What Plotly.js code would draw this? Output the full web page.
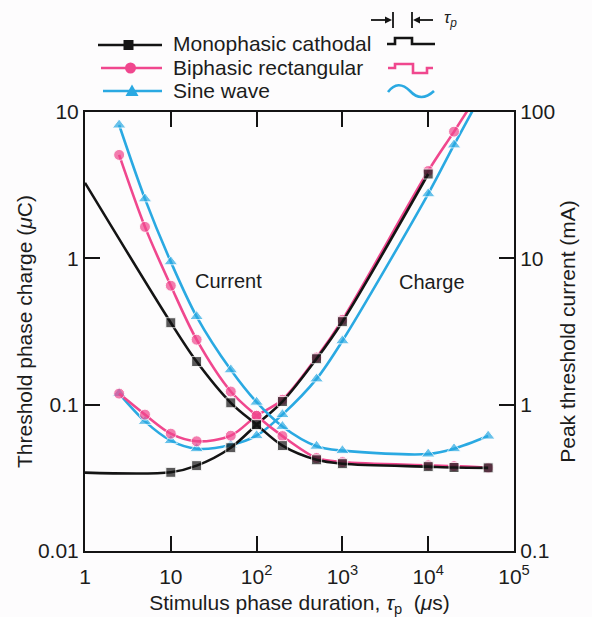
<!DOCTYPE html>
<html>
<head>
<meta charset="utf-8">
<script src="https://cdn.plot.ly/plotly-3.0.1.min.js"></script>
<style>html,body{margin:0;padding:0;background:#fdfcfd;}#chart{width:592px;height:617px;}</style>
</head>
<body>
<div id="chart"></div>
<script>
// ---- data ----
// stimulus phase duration (µs)
var monoX      = [1, 10, 20, 50, 100, 200, 500, 1000, 10000, 20000, 50000];
var monoCurrent= [32.8, 3.63, 1.97, 1.03, 0.73, 0.525, 0.42, 0.395, 0.377, 0.372, 0.37];   // mA
var monoMarkC  = [0, 1, 1, 1, 1, 1, 1, 1, 1, 1, 1];
var monoQX     = [1, 10, 20, 50, 100, 200, 500, 1000, 10000];
var monoCharge = [0.0343, 0.0345, 0.0383, 0.0508, 0.073, 0.105, 0.206, 0.369, 3.77];       // µC
var monoMarkQ  = [0, 1, 1, 1, 1, 1, 1, 1, 1];

var biX        = [2.5, 5, 10, 20, 50, 100, 200, 500, 1000, 10000, 20000, 50000];
var biCurrent  = [50.9, 16.4, 6.5, 2.78, 1.23, 0.84, 0.61, 0.432, 0.405, 0.385, 0.38, 0.37];
var biMarkC    = [1, 1, 1, 1, 1, 1, 1, 1, 1, 1, 1, 1];
var biCharge   = [0.119, 0.0855, 0.0634, 0.0562, 0.0614, 0.084, 0.108, 0.21, 0.38, 3.95, 7.34, 17];
var biMarkQ    = [1, 1, 1, 1, 1, 1, 1, 1, 1, 1, 1, 0];

var sineX      = [2.5, 5, 10, 20, 50, 100, 200, 500, 1000, 10000, 20000, 50000];
var sineCurrent= [81.5, 25.5, 9.47, 4.0, 1.73, 1.04, 0.71, 0.52, 0.485, 0.46, 0.50, 0.61];
var sineMarkC  = [1, 1, 1, 1, 1, 1, 1, 1, 1, 1, 1, 1];
var sineCharge = [0.119, 0.0769, 0.0568, 0.050, 0.053, 0.0614, 0.0855, 0.150, 0.273, 2.76, 5.96, 16];
var sineMarkQ  = [1, 1, 1, 1, 1, 1, 1, 1, 1, 1, 1, 0];

var xTickVals  = [1, 10, 100, 1000, 10000, 100000];
var xTickText  = ['1', '10', '10<sup>2</sup>', '10<sup>3</sup>', '10<sup>4</sup>', '10<sup>5</sup>'];
var yTickVals  = [0.01, 0.1, 1, 10];
var yTickText  = ['0.01', '0.1', '1', '10'];
var y2TickVals = [0.1, 1, 10, 100];
var y2TickText = ['0.1', '1', '10', '100'];
var seriesNames = ['Monophasic cathodal', 'Biphasic rectangular', 'Sine wave'];

// ---- styles ----
var BLACK = '#141414', PINK = '#f0478e', BLUE = '#2aa9e2', TXT = '#1c1c1c';
var FONT = 'Liberation Sans, Arial, Helvetica, sans-serif';

function tr(x, y, mark, color, symbol, size, axis) {
  return {
    x: x, y: y, yaxis: axis, type: 'scatter', mode: 'lines+markers',
    line: {color: color, width: 2.6, shape: 'spline', smoothing: 0.9},
    marker: {color: color, symbol: symbol, size: mark.map(function(m){return m ? size : 0;})},
    showlegend: false, hoverinfo: 'skip'
  };
}

var data = [
  tr(sineX, sineCurrent, sineMarkC, BLUE, 'triangle-up', 12, 'y2'),
  tr(sineX, sineCharge, sineMarkQ, BLUE, 'triangle-up', 12, 'y'),
  tr(biX, biCurrent, biMarkC, PINK, 'circle', 11, 'y2'),
  tr(biX, biCharge, biMarkQ, PINK, 'circle', 11, 'y'),
  tr(monoX, monoCurrent, monoMarkC, BLACK, 'square', 10, 'y2'),
  tr(monoQX, monoCharge, monoMarkQ, BLACK, 'square', 10, 'y')
];

// pixel -> paper helpers for decorations (plot area 85..514 x 112..551)
var L = 85, R = 514, T = 112, B = 551;
function px(x){ return (x - L) / (R - L); }
function py(y){ return (B - y) / (B - T); }
function path(pts){
  return pts.map(function(p){
    var s = p[0];
    for (var i = 1; i < p.length; i += 2) s += (i > 1 ? ' ' : '') + px(p[i]) + ',' + py(p[i+1]);
    return s;
  }).join(' ');
}
function lineShape(x0,y0,x1,y1,color,w){
  return {type:'line', xref:'paper', yref:'paper', x0:px(x0), y0:py(y0), x1:px(x1), y1:py(y1), line:{color:color, width:w||2.6}};
}
function pathShape(d,color,w,fill){
  return {type:'path', xref:'paper', yref:'paper', path:d, line:{color:color, width:w===undefined?2.6:w}, fillcolor: fill || 'rgba(0,0,0,0)'};
}

var shapes = [
  // legend lines
  lineShape(98, 45, 162, 45, BLACK),
  lineShape(101, 68, 162, 68, PINK),
  lineShape(103, 91, 162, 91, BLUE),
  // legend markers
  {type:'rect', xref:'paper', yref:'paper', x0:px(123.5), x1:px(133.5), y0:py(40), y1:py(50), line:{width:0}, fillcolor:BLACK},
  {type:'circle', xref:'paper', yref:'paper', x0:px(125), x1:px(136), y0:py(62.5), y1:py(73.5), line:{width:0}, fillcolor:PINK},
  pathShape(path([['M',132,84.5],['L',138.5,96],['L',125.5,96],['Z']]), BLUE, 0, BLUE),
  // tau_p marker
  lineShape(371, 20, 387, 20, BLACK, 1.8),
  pathShape(path([['M',392,20],['L',385,16.5],['L',385,23.5],['Z']]), BLACK, 0, BLACK),
  lineShape(393, 12, 393, 28, BLACK, 1.8),
  lineShape(412, 12, 412, 28, BLACK, 1.8),
  lineShape(418, 20, 433, 20, BLACK, 1.8),
  pathShape(path([['M',413,20],['L',420,16.5],['L',420,23.5],['Z']]), BLACK, 0, BLACK),
  // waveform icons
  pathShape(path([['M',387,44],['L',395,44],['L',395,38],['L',412,38],['L',412,44],['L',435,44]]), BLACK),
  pathShape(path([['M',388,68],['L',395,68],['L',395,64],['L',413,64],['L',413,73],['L',427,73],['L',427,68],['L',433,68]]), PINK),
  pathShape(path([['M',388,92],['Q',398,79,410,91],['Q',421,103,434,91]]), BLUE)
];

function ann(text, x, y, xanchor, size){
  return {text:text, x:px(x), y:py(y), xref:'paper', yref:'paper', xanchor:xanchor, yanchor:'middle',
          showarrow:false, font:{size:size, color:TXT, family:FONT}};
}
var annotations = [
  ann('Current', 228, 281, 'center', 20),
  ann('Charge', 432, 282, 'center', 20),
  ann(seriesNames[0], 171, 44, 'left', 21),
  ann(seriesNames[1], 171, 67, 'left', 21),
  ann(seriesNames[2], 171, 90, 'left', 21),
  ann('<i>τ<sub>p</sub></i>', 442, 19, 'left', 17)
];

var axisCommon = {
  type:'log', showgrid:false, zeroline:false, showline:true, linecolor:BLACK, linewidth:2,
  ticks:'inside', ticklen:15, tickwidth:2, tickcolor:BLACK, tickmode:'array',
  tickfont:{size:21, color:TXT, family:FONT}, automargin:false
};

var layout = {
  width:592, height:617,
  margin:{l:L, r:592-R, t:T, b:617-B, pad:0},
  paper_bgcolor:'#fdfcfd', plot_bgcolor:'#fdfcfd',
  font:{family:FONT, color:TXT},
  showlegend:false,
  xaxis: Object.assign({}, axisCommon, {
    range:[0,5], tickvals:xTickVals, ticktext:xTickText, mirror:'ticks', ticklabelstandoff:6,
    title:{text:'Stimulus phase duration, <i>τ</i><sub>p</sub>  (<i>μ</i>s)', font:{size:21, color:TXT, family:FONT}, standoff:8}
  }),
  yaxis: Object.assign({}, axisCommon, {
    range:[-2,1], tickvals:yTickVals, ticktext:yTickText,
    title:{text:'Threshold phase charge (<i>μ</i>C)', font:{size:21, color:TXT, family:FONT}, standoff:0}
  }),
  yaxis2: Object.assign({}, axisCommon, {
    range:[-1,2], tickvals:y2TickVals, ticktext:y2TickText, overlaying:'y', side:'right',
    title:{text:'Peak threshold current (mA)', font:{size:21, color:TXT, family:FONT}, standoff:6}
  }),
  shapes: shapes,
  annotations: annotations
};

Plotly.newPlot('chart', data, layout, {displayModeBar:false, staticPlot:true});
</script>
</body>
</html>
